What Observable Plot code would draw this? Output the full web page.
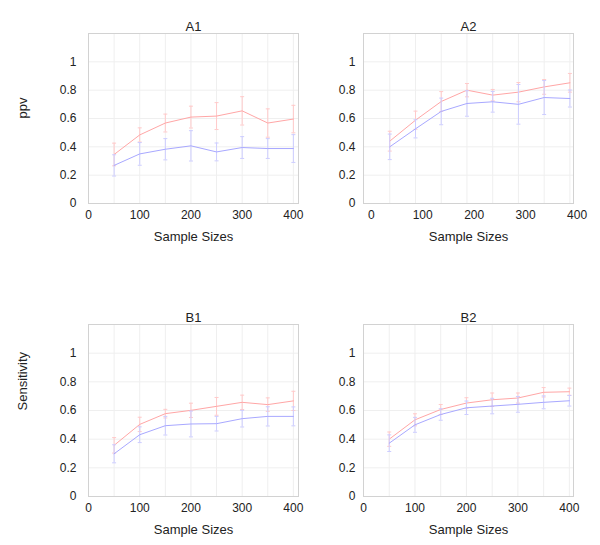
<!DOCTYPE html>
<html><head><meta charset="utf-8">
<script src="https://cdn.jsdelivr.net/npm/d3@7"></script>
<script src="https://cdn.jsdelivr.net/npm/@observablehq/plot@0.6"></script>
<style>
body{margin:0;background:#fff;}
#wrap{position:relative;width:600px;height:545px;overflow:hidden;}
.panel{position:absolute;}
</style></head><body><div id="wrap"></div>
<script>
// Sample sizes (x positions of the points)
const sampleSizes = [50, 100, 150, 200, 250, 300, 350, 400];
const sampleSizesA2 = [36, 86, 136, 186, 236, 286, 336, 386];
const xTicks = [0, 100, 200, 300, 400];
const yTicks = [0, 0.2, 0.4, 0.6, 0.8, 1];
const yGrid = [0.2, 0.4, 0.6, 0.8, 1];

// A1 (ppv)
const a1Red = [0.346, 0.484, 0.568, 0.61, 0.617, 0.654, 0.568, 0.596];
const a1RedErr = [0.08, 0.05, 0.063, 0.077, 0.095, 0.1, 0.1, 0.097];
const a1Blue = [0.269, 0.35, 0.383, 0.407, 0.364, 0.395, 0.388, 0.388];
const a1BlueErr = [0.075, 0.08, 0.075, 0.107, 0.063, 0.077, 0.07, 0.098];
// A2 (ppv)
const a2Red = [0.44, 0.588, 0.72, 0.80, 0.765, 0.786, 0.823, 0.852];
const a2RedErr = [0.07, 0.064, 0.07, 0.047, 0.04, 0.068, 0.052, 0.066];
const a2Blue = [0.40, 0.527, 0.65, 0.706, 0.718, 0.70, 0.748, 0.741];
const a2BlueErr = [0.09, 0.064, 0.094, 0.09, 0.073, 0.14, 0.12, 0.06];
// B1 (Sensitivity)
const b1Red = [0.357, 0.503, 0.578, 0.601, 0.629, 0.657, 0.641, 0.667];
const b1RedErr = [0.054, 0.05, 0.03, 0.05, 0.062, 0.05, 0.047, 0.067];
const b1Blue = [0.298, 0.431, 0.494, 0.506, 0.508, 0.543, 0.559, 0.559];
const b1BlueErr = [0.063, 0.055, 0.065, 0.09, 0.051, 0.058, 0.067, 0.066];
// B2 (Sensitivity)
const b2Red = [0.40, 0.535, 0.607, 0.652, 0.675, 0.687, 0.727, 0.731];
const b2RedErr = [0.05, 0.042, 0.035, 0.037, 0.047, 0.035, 0.033, 0.025];
const b2Blue = [0.372, 0.50, 0.572, 0.619, 0.631, 0.643, 0.657, 0.668];
const b2BlueErr = [0.058, 0.052, 0.04, 0.047, 0.054, 0.055, 0.045, 0.037];

const FONT = '"Liberation Sans", Arial, Helvetica, sans-serif';
const RED = "#ffa6a6", RED_E = "#ffcaca", BLUE = "#a8a8ff", BLUE_E = "#cdcdff";

const capSymbol = {
  draw(ctx, size) {
    const w = Math.sqrt(size / Math.PI);
    ctx.moveTo(-w, 0); ctx.lineTo(w, 0);
  }
};

function series(xs, vals, errs) {
  return xs.map((x, i) => ({x, v: vals[i], lo: vals[i] - errs[i], hi: vals[i] + errs[i]}));
}

function panel(cfg) {
  const red = series(cfg.xs, cfg.red, cfg.redErr);
  const blue = series(cfg.xs, cfg.blue, cfg.blueErr);
  const marks = [
    Plot.ruleX(cfg.xs, {x: d => d, stroke: "#efefef", strokeWidth: 1}),
    Plot.ruleY(yGrid, {y: d => d, stroke: "#efefef", strokeWidth: 1}),
    Plot.frame({stroke: "#d2d2d2"}),
  ];
  for (const [data, c, ce] of [[red, RED, RED_E], [blue, BLUE, BLUE_E]]) {
    marks.push(
      Plot.ruleX(data, {x: "x", y1: "lo", y2: "hi", stroke: ce, strokeWidth: 1}),
      Plot.dot(data, {x: "x", y: "lo", symbol: capSymbol, r: 2, stroke: ce, fill: "none", strokeWidth: 1}),
      Plot.dot(data, {x: "x", y: "hi", symbol: capSymbol, r: 2, stroke: ce, fill: "none", strokeWidth: 1}),
      Plot.line(data, {x: "x", y: "v", stroke: c, strokeWidth: 1})
    );
  }
  marks.push(
    Plot.text(xTicks, {x: d => d, frameAnchor: "bottom", dy: 15, text: d => String(d), fontSize: 12, fill: "#222"}),
    Plot.text(yTicks, {y: d => d, frameAnchor: "left", dx: cfg.yTickDx, textAnchor: "end", text: d => String(d), fontSize: 12, fill: "#222"}),
    Plot.text(["Sample Sizes"], {frameAnchor: "bottom", dy: 37, fontSize: 13, fill: "#222"}),
    Plot.text([cfg.title], {frameAnchor: "top", dy: -12, fontSize: 13, fill: "#222"})
  );
  if (cfg.ylabel) {
    marks.push(Plot.text([cfg.ylabel], {frameAnchor: "left", dx: -66, rotate: -90, fontSize: 13, fill: "#222"}));
  }
  const p = Plot.plot({
    width: 300,
    height: cfg.height,
    marginLeft: 88,
    marginRight: 2,
    marginTop: cfg.marginTop,
    marginBottom: cfg.marginBottom,
    x: {domain: cfg.xDomain, axis: null},
    y: {domain: [0, 1.2], axis: null},
    style: {fontFamily: FONT, background: "transparent", overflow: "visible"},
    marks
  });
  const div = document.createElement("div");
  div.className = "panel";
  div.style.left = cfg.left + "px";
  div.style.top = cfg.top + "px";
  div.appendChild(p);
  document.getElementById("wrap").appendChild(div);
}

panel({title: "A1", ylabel: "ppv", xs: sampleSizes, red: a1Red, redErr: a1RedErr, blue: a1Blue, blueErr: a1BlueErr,
  xDomain: [0, 410], left: 0, top: 0, height: 250, marginTop: 33, marginBottom: 47, yTickDx: -12});
panel({title: "A2", xs: sampleSizesA2, red: a2Red, redErr: a2RedErr, blue: a2Blue, blueErr: a2BlueErr,
  xDomain: [-15, 393], left: 275, top: 0, height: 250, marginTop: 33, marginBottom: 47, yTickDx: -8});
panel({title: "B1", ylabel: "Sensitivity", xs: sampleSizes, red: b1Red, redErr: b1RedErr, blue: b1Blue, blueErr: b1BlueErr,
  xDomain: [0, 410], left: 0, top: 290, height: 255, marginTop: 34, marginBottom: 49, yTickDx: -12});
panel({title: "B2", xs: sampleSizes, red: b2Red, redErr: b2RedErr, blue: b2Blue, blueErr: b2BlueErr,
  xDomain: [0, 408], left: 275, top: 290, height: 255, marginTop: 34, marginBottom: 49, yTickDx: -8});
</script>
</body></html>
